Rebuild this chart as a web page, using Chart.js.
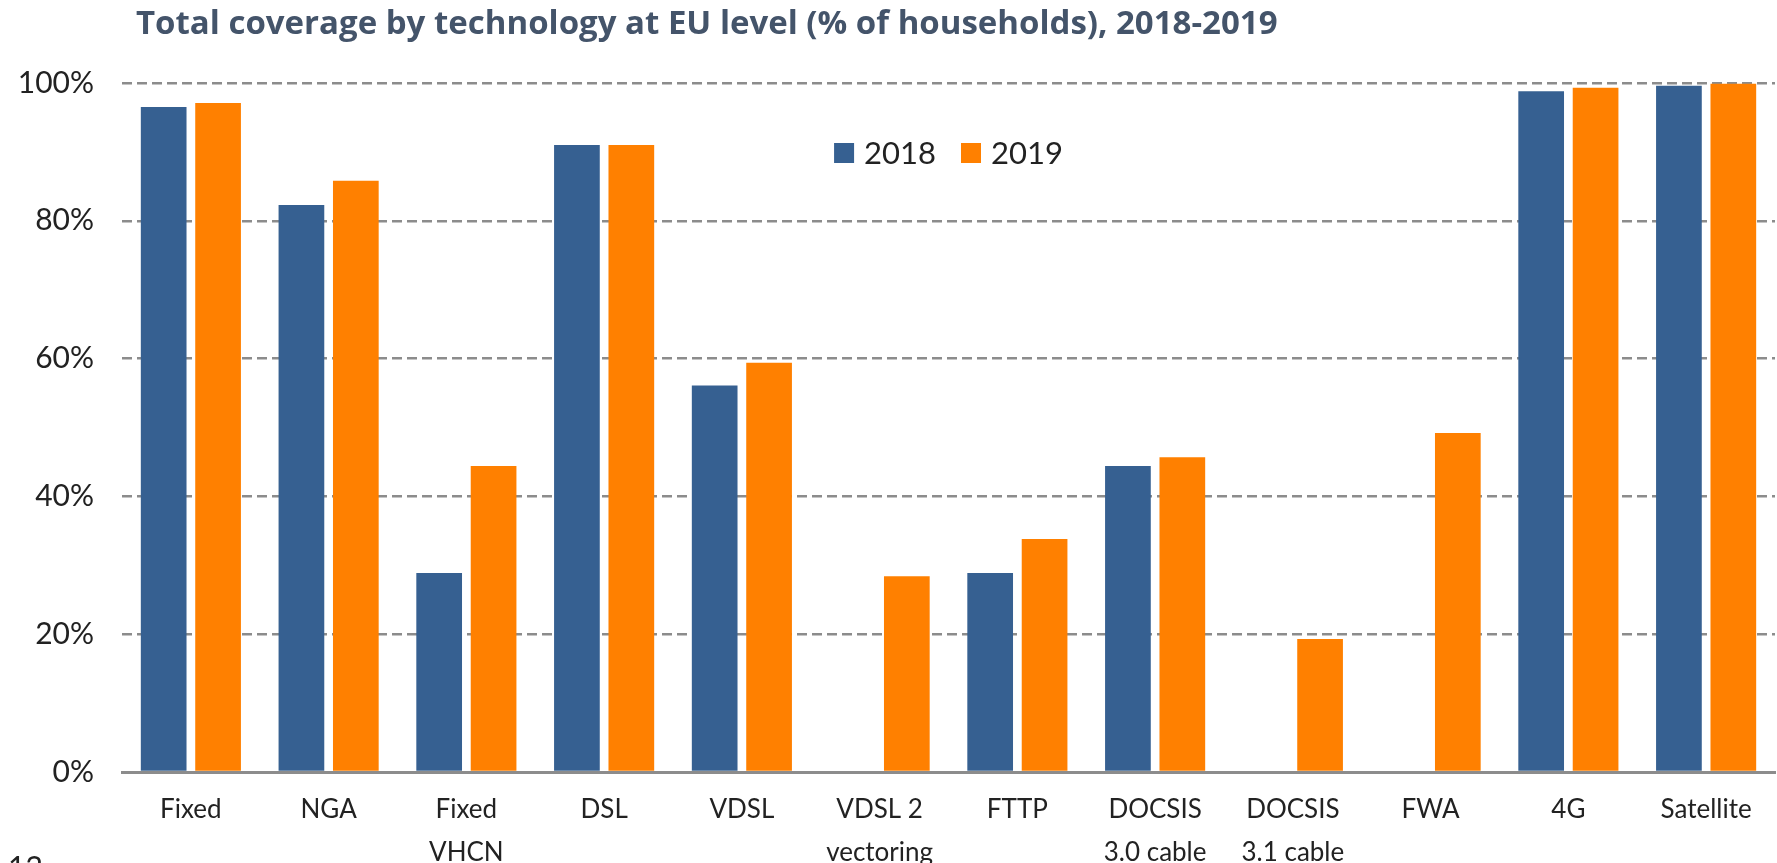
<!DOCTYPE html>
<html>
<head>
<meta charset="utf-8">
<script src="https://cdn.jsdelivr.net/npm/chart.js@4.4.1/dist/chart.umd.min.js"></script>
<style>
  html, body { margin: 0; padding: 0; background: #fff; overflow: hidden; }
  #wrap { position: relative; width: 1777px; height: 863px; }
  #title {
    position: absolute; left: 136px; top: 5px;
    font: bold 33px "Open Sans", sans-serif; line-height: 34px;
    color: #44546a; white-space: nowrap;
  }
  #page {
    position: absolute; left: 8px; top: 851px;
    font: 30px Lato, sans-serif; line-height: 30px; color: #222;
  }
  canvas { position: absolute; left: 0; top: 0; }
</style>
</head>
<body>
<div id="wrap">
  <canvas id="coverageChart" width="1777" height="863"></canvas>
  <div id="title">Total coverage by technology at EU level (% of households), 2018-2019</div>
  <div id="page">12</div>
</div>
<script>
// Data
const categories = [
  'Fixed', 'NGA', ['Fixed', 'VHCN'], 'DSL', 'VDSL', ['VDSL 2', 'vectoring'],
  'FTTP', ['DOCSIS', '3.0 cable'], ['DOCSIS', '3.1 cable'], 'FWA', '4G', 'Satellite'
];
const seriesNames = ['2018', '2019'];
const values2018 = [96.5, 82.3, 28.9, 91.0, 56.1, null, 28.9, 44.4, null, null, 98.8, 99.6];
const values2019 = [97.1, 85.8, 44.4, 91.0, 59.4, 28.4, 33.8, 45.7, 19.3, 49.2, 99.3, 99.9];
const yTicks = [0, 20, 40, 60, 80, 100];

const blue = '#366091';
const orange = '#ff8000';

// legend drawn inside the plot area, centered, like the Excel original
const insideLegend = {
  id: 'insideLegend',
  afterDraw(chart) {
    const ctx = chart.ctx;
    const area = chart.chartArea;
    const box = 20, gapText = 10, gapItem = 25;
    ctx.save();
    ctx.font = '31px Lato, sans-serif';
    ctx.textBaseline = 'middle';
    const items = chart.data.datasets.map(ds => ({
      label: ds.label, color: ds.backgroundColor, w: ctx.measureText(ds.label).width
    }));
    let total = 0;
    items.forEach((it, i) => { total += box + gapText + it.w + (i ? gapItem : 0); });
    let x = (area.left + area.right) / 2 - total / 2;
    const y = area.top + 70;
    items.forEach(it => {
      ctx.fillStyle = it.color;
      ctx.fillRect(x, y - box / 2, box, box);
      ctx.fillStyle = '#222';
      ctx.fillText(it.label, x + box + gapText, y + 1);
      x += box + gapText + it.w + gapItem;
    });
    ctx.restore();
  }
};

const ctx = document.getElementById('coverageChart').getContext('2d');
const coverageChart = new Chart(ctx, {
  type: 'bar',
  data: {
    labels: categories,
    datasets: [
      { label: seriesNames[0], data: values2018, backgroundColor: blue },
      { label: seriesNames[1], data: values2019, backgroundColor: orange }
    ]
  },
  options: {
    responsive: false,
    animation: false,
    datasets: {
      bar: { categoryPercentage: 0.79, barPercentage: 0.84 }
    },
    layout: {
      padding: { top: 83, right: 2, left: 0, bottom: 0 }
    },
    plugins: {
      legend: { display: false },
      title: { display: false },
      tooltip: { enabled: false }
    },
    scales: {
      x: {
        grid: { display: false, drawTicks: false },
        border: { display: true, color: '#8c8c8c', width: 3 },
        ticks: {
          color: '#222',
          font: { family: 'Lato', size: 26, lineHeight: 1.62 },
          padding: 17,
          maxRotation: 0,
          autoSkip: false
        },
        afterFit(scale) { scale.height = 91; }
      },
      y: {
        min: 0,
        max: 100,
        afterBuildTicks(scale) { scale.ticks = yTicks.map(v => ({ value: v })); },
        grid: {
          drawTicks: false,
          color: c => c.tick && c.tick.value === 0 ? 'rgba(0,0,0,0)' : '#8c8c8c',
          lineWidth: 2.5
        },
        border: { display: false, dash: [10, 5] },
        ticks: {
          color: '#222',
          font: { family: 'Lato', size: 30 },
          padding: 28,
          callback: v => v + '%'
        },
        afterFit(scale) { scale.width = 122; }
      }
    }
  },
  plugins: [insideLegend]
});
</script>
</body>
</html>
